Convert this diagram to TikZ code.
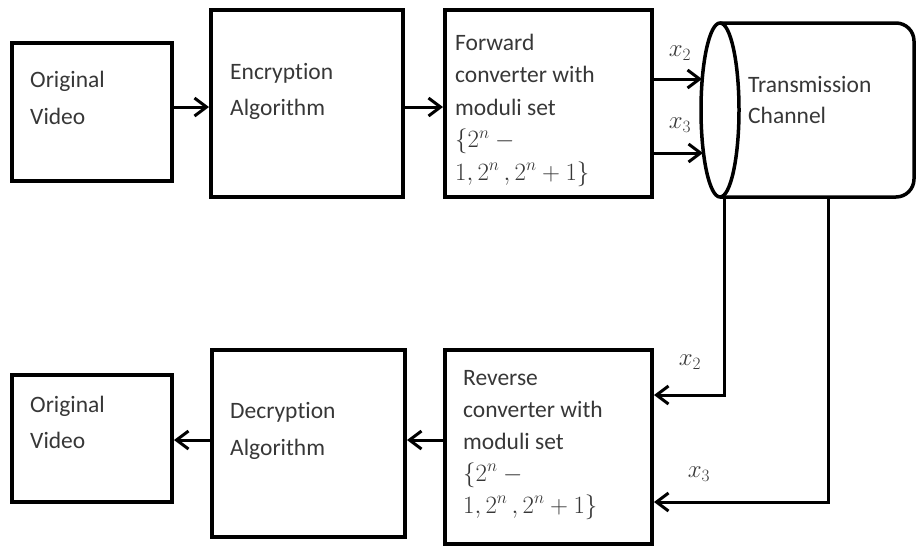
\documentclass[tikz,border=0pt]{standalone}
\usepackage{fontspec}
\setmainfont{Carlito}[Ligatures=NoCommon]
\usetikzlibrary{arrows.meta}
\definecolor{txtgray}{RGB}{55,55,55}
\begin{document}
\begin{tikzpicture}[x=1pt,y=-1pt,
  blk/.style={draw=black, line width=4pt, rectangle, inner sep=0pt},
  txt/.style={anchor=base west, align=left, inner sep=0pt, text=txtgray, font=\fontsize{23.5}{#1}\selectfont},
  txt/.default=35,
  lbl/.style={inner sep=0pt, text=txtgray, font=\fontsize{23}{27}\selectfont},
  arr/.style={line width=3pt, -{Straight Barb[length=12pt,width=18pt,line width=3pt]}},
  cyl/.style={line width=3.5pt}]
\useasboundingbox (0,0) rectangle (918,547);
% boxes
\node[blk, minimum width=160pt, minimum height=138pt] (ov1) at (92,112) {};
\node[blk, minimum width=192pt, minimum height=187pt] (enc) at (307,103.5) {};
\node[blk, minimum width=207pt, minimum height=187pt] (fwd) at (548.5,103.5) {};
\node[blk, minimum width=207pt, minimum height=194pt] (rev) at (548.5,447) {};
\node[blk, minimum width=193pt, minimum height=187pt] (dec) at (308.5,443.5) {};
\node[blk, minimum width=160pt, minimum height=127pt] (ov2) at (92,438.5) {};
% texts (anchored at the baseline of the last line)
\node[txt=37] (tov1) at (30,124) {Original\\Video};
\node[txt=36] (tenc) at (230,115) {Encryption\\Algorithm};
\node[txt=32.5] (tfwd) at (455,180) {Forward\\converter with\\moduli set\\$\{2^n -{}$\\$1,2^n\,,2^n+1\}$};
\node[txt=32] (trev) at (463,513) {Reverse\\converter with\\moduli set\\$\{2^n -{}$\\$1,2^n\,,2^n+1\}$};
\node[txt=37] (tdec) at (230,455) {Decryption\\Algorithm};
\node[txt=36] (tov2) at (30,448) {Original\\Video};
% cylinder
\draw[cyl, rounded corners=18pt] (720,23) -- (914,23) -- (914,197) -- (720,197);
\draw[cyl, fill=white] (720,110) ellipse [x radius=19, y radius=87];
\node[txt=31] (tch) at (748,123) {Transmission\\Channel};
\coordinate (c2in) at (702,79);
\coordinate (c3in) at (703,153);
\coordinate (c2out) at (724,197);
\coordinate (c3out) at (828,197);
% helper levels
\coordinate (y107) at (0,107);
\coordinate (y79) at (0,79);
\coordinate (y153) at (0,153);
\coordinate (y440) at (0,440);
\coordinate (y395) at (0,395);
\coordinate (y502) at (0,502);
% connectors top
\draw[arr] (ov1.east |- y107) -- (enc.west |- y107);
\draw[arr] (enc.east |- y107) -- (fwd.west |- y107);
\draw[arr] (fwd.east |- y79) -- (c2in);
\draw[arr] (fwd.east |- y153) -- (c3in);
% connectors down
\draw[arr] (c2out) |- (rev.east |- y395);
\draw[arr] (c3out) |- (rev.east |- y502);
\draw[arr] (rev.west |- y440) -- (dec.east |- y440);
\draw[arr] (dec.west |- y440) -- (ov2.east |- y440);
% labels
\node[lbl] (lx2a) at (680,53) {$x_2$};
\node[lbl] (lx3a) at (680,125) {$x_3$};
\node[lbl] (lx2b) at (690,362) {$x_2$};
\node[lbl] (lx3b) at (699,474) {$x_3$};
\end{tikzpicture}
\end{document}
